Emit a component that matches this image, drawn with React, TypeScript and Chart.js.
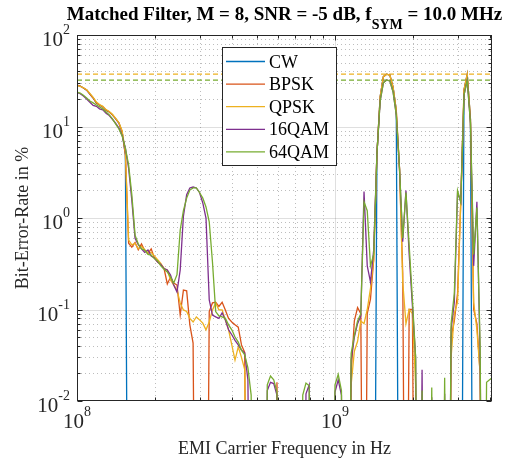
import React, { useEffect, useRef } from 'react';
import { Chart, registerables } from 'chart.js';

Chart.register(...registerables);

// ---------------- data ----------------
const freqMHz = [
  100, 102.9, 105.9, 109.0, 112.2, 115.5, 118.9, 122.3, 125.9, 129.6,
  133.4, 137.2, 141.3, 145.4, 149.6, 154.0, 158.5, 163.1, 167.9, 172.8,
  177.8, 183.0, 188.4, 193.9, 199.5, 205.4, 211.3, 217.5, 223.9, 230.4,
  237.1, 244.1, 251.2, 258.5, 266.1, 273.8, 281.8, 290.1, 298.5, 307.3,
  316.2, 325.5, 335.0, 344.8, 354.8, 365.2, 375.8, 386.8, 398.1, 409.7,
  421.7, 434.0, 446.7, 459.7, 473.2, 487.0, 501.2, 515.8, 530.9, 546.4,
  562.3, 578.8, 595.7, 613.1, 631.0, 649.4, 668.3, 687.9, 707.9, 728.6,
  749.9, 771.8, 794.3, 817.5, 841.4, 866.0, 891.3, 917.3, 944.1, 971.6,
  1000, 1029.2, 1059.3, 1090.2, 1122.0, 1154.8, 1188.5, 1223.2, 1258.9, 1295.7,
  1333.5, 1372.5, 1412.5, 1453.8, 1496.2, 1539.9, 1584.9, 1631.2, 1678.8, 1727.8,
  1778.3, 1830.2, 1883.6, 1938.7, 1995.3, 2053.5, 2113.5, 2175.2, 2238.7, 2304.1,
  2371.4, 2440.6, 2511.9, 2585.2, 2660.7, 2738.4, 2818.4, 2900.7, 2985.4, 3072.6,
  3162.3, 3254.6, 3349.7, 3447.5, 3548.1, 3651.7, 3758.4, 3868.1, 4060,
];

const berCW = [
  28.4, 27.7, 26.3, 25.0, 22.6, 20.5, 18.1, 17.2, 16.4, 15.1,
  14.4, 13.4, 12.1, 10.9, 8.7, 4.9, 0, 0, 0, 0,
  0, 0, 0, 0, 0, 0, 0, 0, 0, 0,
  0, 0, 0, 0, 0, 0, 0, 0, 0, 0,
  0, 0, 0, 0, 0, 0, 0, 0, 0, 0,
  0, 0, 0, 0, 0, 0, 0, 0, 0, 0,
  0, 0, 0, 0, 0, 0, 0, 0, 0, 0,
  0, 0, 0, 0, 0, 0, 0, 0, 0, 0,
  0, 0, 0, 0, 0, 0, 0, 0, 0, 0,
  0, 0, 0, 5.0, 21, 35, 37.3, 36.5, 27, 15,
  0, 0, 0, 0, 0, 0, 0, 0, 0, 0,
  0, 0, 0, 0, 0, 0, 0, 0, 0, 0,
  25, 37.3, 12, 0, 0, 0, 0, 0, 0,
];

const berBPSK = [
  28.4, 27.7, 26.3, 25.0, 22.6, 20.5, 18.1, 17.2, 16.4, 15.1,
  14.4, 13.4, 12.1, 10.9, 8.7, 4.9, 0.53, 0.48, 0.54, 0.45,
  0.52, 0.44, 0.41, 0.46, 0.365, 0.33, 0.31, 0.28, 0.19, 0.226,
  0.195, 0.185, 0.087, 0.163, 0.16, 0.068, 0.043, 0, 0, 0,
  0, 0.095, 0.118, 0.12, 0.108, 0.12, 0.099, 0.08, 0.073, 0.068,
  0.064, 0.041, 0.034, 0, 0, 0, 0, 0, 0, 0,
  0, 0, 0.016, 0, 0, 0, 0, 0, 0, 0,
  0, 0, 0, 0, 0, 0, 0, 0, 0, 0,
  0, 0, 0, 0, 0, 0.02, 0.075, 0.105, 0.09, 0,
  0.09, 0.13, 0.35, 5.0, 21, 35, 37.3, 36.5, 27, 15,
  3.5, 0.25, 0, 0.1, 0.1, 0, 0, 0, 0, 0,
  0, 0, 0, 0, 0, 0, 0.05, 0.075, 0.15, 1.5,
  25, 37.3, 12, 0.1, 0.07, 0.02, 0, 0, 0,
];

const berQPSK = [
  28.0, 27.5, 26.5, 25.2, 23.0, 20.8, 18.5, 17.4, 16.6, 15.3,
  14.6, 13.6, 12.3, 11.0, 9.0, 5.3, 0.575, 0.51, 0.53, 0.46,
  0.49, 0.45, 0.42, 0.42, 0.385, 0.35, 0.32, 0.28, 0.27, 0.21,
  0.185, 0.163, 0.118, 0.099, 0.095, 0.08, 0.073, 0.083, 0.077, 0.071,
  0.06, 0.073, 0.099, 0.118, 0.099, 0.099, 0.077, 0.06, 0.041, 0.028,
  0.039, 0.03, 0.022, 0, 0, 0, 0, 0, 0, 0,
  0, 0, 0, 0, 0, 0, 0, 0, 0, 0,
  0, 0, 0, 0, 0, 0, 0, 0, 0, 0,
  0, 0, 0, 0, 0, 0.015, 0.035, 0.045, 0.075, 0.07,
  0.1, 0.17, 0.35, 5.0, 21, 35, 37.3, 36.5, 27, 15,
  3.5, 0.2, 0.07, 0.1, 0.09, 0.015, 0, 0, 0, 0,
  0, 0, 0, 0, 0, 0, 0.03, 0.09, 0.12, 1.5,
  25, 37.3, 12, 0.12, 0.06, 0.02, 0, 0, 0,
];

const ber16QAM = [
  23.5, 22.8, 21.5, 20.0, 18.4, 17.0, 16.6, 15.6, 15.2, 14.0,
  13.2, 12.0, 10.8, 9.6, 8.0, 5.8, 3.5, 1.57, 0.6, 0.51,
  0.46, 0.42, 0.447, 0.385, 0.365, 0.33, 0.31, 0.28, 0.27, 0.238,
  0.185, 0.155, 0.27, 1.05, 1.8, 2.13, 2.18, 2.13, 1.9, 1.46,
  1.0, 0.127, 0.087, 0.083, 0.08, 0.092, 0.077, 0.06, 0.053, 0.046,
  0.041, 0.036, 0.0335, 0.017, 0, 0, 0, 0, 0, 0.013,
  0.016, 0.0155, 0.0116, 0, 0, 0, 0, 0, 0, 0,
  0, 0.012, 0.015, 0, 0, 0, 0, 0, 0, 0,
  0.0125, 0.017, 0.0116, 0, 0, 0.028, 0.05, 0.07, 0.085, 1.95,
  0.3, 0.2, 0.45, 5.0, 19, 30, 32.3, 31.5, 24, 13.5,
  3.5, 0.55, 2.0, 0.4, 0.11, 0.03, 0, 0.022, 0, 0,
  0.011, 0, 0, 0, 0.012, 0, 0.06, 0.12, 1.9, 1.5,
  22, 32, 11, 0.3, 1.5, 0.03, 0, 0, 0,
];

const ber64QAM = [
  23.8, 23.2, 22.0, 20.5, 19.0, 18.1, 17.2, 16.4, 15.5, 14.4,
  13.4, 12.1, 10.6, 9.4, 7.9, 5.8, 3.8, 1.8, 0.65, 0.52,
  0.46, 0.447, 0.40, 0.394, 0.36, 0.34, 0.30, 0.275, 0.257, 0.226,
  0.195, 0.24, 0.74, 1.2, 1.65, 2.02, 2.13, 2.13, 1.9, 1.65,
  1.32, 0.91, 0.33, 0.095, 0.085, 0.083, 0.08, 0.068, 0.06, 0.05,
  0.044, 0.036, 0.032, 0.023, 0.0116, 0, 0, 0, 0, 0.015,
  0.0187, 0.017, 0.0125, 0, 0, 0, 0, 0, 0, 0,
  0.0116, 0.0157, 0.0147, 0, 0, 0, 0, 0, 0, 0,
  0.015, 0.0195, 0.013, 0, 0, 0.033, 0.052, 0.075, 0.09, 1.5,
  1.2, 0.3, 0.4, 5.0, 19, 30, 32.3, 31.5, 24, 13.5,
  3.5, 0.6, 1.9, 0.5, 0.13, 0.03, 0, 0.013, 0, 0,
  0.014, 0, 0, 0, 0.018, 0, 0.07, 0.15, 2.0, 1.5,
  22, 32, 11, 0.4, 1.3, 0.04, 0, 0.016, 0.018,
];

// theoretical limits (dashed)
const limitPSK = 37.3;
const limitQAM = 32.2;

const seriesNames = ['CW', 'BPSK', 'QPSK', '16QAM', '64QAM'];
const seriesColors = ['#0072BD', '#D95319', '#EDB120', '#7E2F8E', '#77AC30'];
const seriesValues = [berCW, berBPSK, berQPSK, ber16QAM, ber64QAM];

const xDecades = [1e8, 1e9];
const xDecadeExp = ['8', '9'];
const yDecades = [1e-2, 1e-1, 1e0, 1e1, 1e2];
const yDecadeExp = ['-2', '-1', '0', '1', '2'];
const xMin = 1e8;
const xMax = 4.06e9;
const yMin = 1e-2;
const yMax = 1e2;

const titleMain = 'Matched Filter, M = 8, SNR = -5 dB, f';
const titleSub = 'SYM';
const titleEnd = ' = 10.0 MHz';
const xLabel = 'EMI Carrier Frequency in Hz';
const yLabel = 'Bit-Error-Rate in %';

// --------------- drawing helpers ---------------
const ZERO_FLOOR = 1e-6; // BER of 0 drawn as a drop out of the log axis
const SERIF = '"Liberation Serif", "Times New Roman", serif';
const AXC = '#262626';

const minorOf = (decades: number[], lo: number, hi: number) => {
  const out: number[] = [];
  for (const d of decades) for (let m = 2; m <= 9; m++) {
    const v = m * d;
    if (v > lo && v < hi) out.push(v);
  }
  return out;
};

const decorPlugin = {
  id: 'matlabDecor',
  beforeDatasetsDraw(chart: any) {
    const { ctx, chartArea: a, scales } = chart;
    const x = scales.x, y = scales.y;
    const xMinor = minorOf(xDecades, xMin, xMax);
    const yMinor = minorOf(yDecades, yMin, yMax);
    ctx.save();
    ctx.lineWidth = 1;
    ctx.strokeStyle = 'rgba(38,38,38,0.3)';
    ctx.setLineDash([1, 3]);
    ctx.beginPath();
    for (const v of xMinor) {
      const p = Math.round(x.getPixelForValue(v)) + 0.5;
      ctx.moveTo(p, a.top); ctx.lineTo(p, a.bottom);
    }
    for (const v of yMinor) {
      const p = Math.round(y.getPixelForValue(v)) + 0.5;
      ctx.moveTo(a.left, p); ctx.lineTo(a.right, p);
    }
    ctx.stroke();
    ctx.setLineDash([]);
    ctx.strokeStyle = 'rgba(38,38,38,0.15)';
    ctx.beginPath();
    for (const v of xDecades) {
      if (v <= xMin || v >= xMax) continue;
      const p = Math.round(x.getPixelForValue(v)) + 0.5;
      ctx.moveTo(p, a.top); ctx.lineTo(p, a.bottom);
    }
    for (const v of yDecades) {
      if (v <= yMin || v >= yMax) continue;
      const p = Math.round(y.getPixelForValue(v)) + 0.5;
      ctx.moveTo(a.left, p); ctx.lineTo(a.right, p);
    }
    ctx.stroke();
    ctx.restore();
  },
  afterDatasetsDraw(chart: any) {
    const { ctx, chartArea: a, scales } = chart;
    const x = scales.x, y = scales.y;
    const xMinor = minorOf(xDecades, xMin, xMax);
    const yMinor = minorOf(yDecades, yMin, yMax);
    const L = Math.round(a.left) + 0.5, R = Math.round(a.right) - 0.5;
    const T = Math.round(a.top) + 0.5, B = Math.round(a.bottom) - 0.5;
    ctx.save();
    // box
    ctx.strokeStyle = AXC;
    ctx.lineWidth = 1;
    ctx.strokeRect(L, T, R - L, B - T);
    // ticks
    ctx.beginPath();
    const xt = (v: number, len: number) => {
      const p = Math.round(x.getPixelForValue(v)) + 0.5;
      ctx.moveTo(p, B); ctx.lineTo(p, B - len);
      ctx.moveTo(p, T); ctx.lineTo(p, T + len);
    };
    const yt = (v: number, len: number) => {
      const p = Math.round(y.getPixelForValue(v)) + 0.5;
      ctx.moveTo(L, p); ctx.lineTo(L + len, p);
      ctx.moveTo(R, p); ctx.lineTo(R - len, p);
    };
    xDecades.forEach((v) => xt(v, 5));
    xMinor.forEach((v) => xt(v, 3));
    yDecades.forEach((v) => yt(v, 5));
    yMinor.forEach((v) => yt(v, 3));
    ctx.stroke();

    // tick labels 10^n
    ctx.fillStyle = AXC;
    ctx.textBaseline = 'alphabetic';
    ctx.textAlign = 'left';
    const baseFont = `21px ${SERIF}`;
    const expFont = `14px ${SERIF}`;
    xDecades.forEach((v, i) => {
      const px = x.getPixelForValue(v);
      ctx.font = baseFont; const w1 = ctx.measureText('10').width;
      ctx.font = expFont; const w2 = ctx.measureText(xDecadeExp[i]).width;
      const sx = px - (w1 + w2) / 2;
      ctx.font = baseFont; ctx.fillText('10', sx, 428);
      ctx.font = expFont; ctx.fillText(xDecadeExp[i], sx + w1, 416);
    });
    yDecades.forEach((v, i) => {
      const py = y.getPixelForValue(v);
      ctx.font = baseFont; const w1 = ctx.measureText('10').width;
      ctx.font = expFont; const w2 = ctx.measureText(yDecadeExp[i]).width;
      const sx = 70 - (w1 + w2);
      ctx.font = baseFont; ctx.fillText('10', sx, py + 11);
      ctx.font = expFont; ctx.fillText(yDecadeExp[i], sx + w1, py - 1);
    });

    // axis labels
    ctx.font = `18px ${SERIF}`;
    ctx.textAlign = 'center';
    ctx.fillText(xLabel, (a.left + a.right) / 2, 454);
    ctx.save();
    ctx.translate(28, (a.top + a.bottom) / 2);
    ctx.rotate(-Math.PI / 2);
    ctx.fillText(yLabel, 0, 0);
    ctx.restore();

    // title with subscript
    ctx.fillStyle = '#000';
    ctx.textAlign = 'left';
    const tFont = `bold 19px ${SERIF}`;
    const sFont = `bold 14px ${SERIF}`;
    ctx.font = tFont; const w1 = ctx.measureText(titleMain).width; const w3 = ctx.measureText(titleEnd).width;
    ctx.font = sFont; const w2 = ctx.measureText(titleSub).width;
    let tx = (a.left + a.right) / 2 - (w1 + w2 + w3) / 2;
    ctx.font = tFont; ctx.fillText(titleMain, tx, 20); tx += w1;
    ctx.font = sFont; ctx.fillText(titleSub, tx, 29); tx += w2;
    ctx.font = tFont; ctx.fillText(titleEnd, tx, 20);

    // legend
    const bx = 222.5, by = 47.5, bw = 114, bh = 118;
    ctx.fillStyle = '#fff';
    ctx.fillRect(bx, by, bw, bh);
    ctx.strokeStyle = AXC;
    ctx.lineWidth = 1;
    ctx.strokeRect(bx, by, bw, bh);
    ctx.font = `18px ${SERIF}`;
    seriesNames.forEach((name, i) => {
      const ry = 61.5 + i * 22.6;
      ctx.strokeStyle = seriesColors[i];
      ctx.lineWidth = 1.3;
      ctx.beginPath();
      ctx.moveTo(226, ry); ctx.lineTo(265, ry);
      ctx.stroke();
      ctx.fillStyle = '#000';
      ctx.fillText(name, 269, ry + 6);
    });
    ctx.restore();
  },
};

export default function App() {
  const ref = useRef<HTMLCanvasElement>(null);
  useEffect(() => {
    document.body.style.margin = '0';
    const canvas = ref.current;
    if (!canvas) return;
    const toPts = (vals: number[]) =>
      freqMHz.map((f, i) => ({ x: f * 1e6, y: vals[i] === 0 ? ZERO_FLOOR : vals[i] }));
    const datasets: any[] = seriesValues.map((vals, i) => ({
      label: seriesNames[i],
      data: toPts(vals),
      borderColor: seriesColors[i],
      borderWidth: 1.3,
      pointRadius: 0,
      tension: 0,
      fill: false,
      order: 5 - i,
    }));
    const limitSet = (val: number, color: string, order: number) => ({
      label: 'limit',
      data: [{ x: xMin, y: val }, { x: xMax, y: val }],
      borderColor: color,
      borderWidth: 1.2,
      borderDash: [5, 3],
      pointRadius: 0,
      fill: false,
      order,
    });
    datasets.push(limitSet(limitPSK, seriesColors[2], 9));
    datasets.push(limitSet(limitQAM, seriesColors[4], 7));

    const chart = new Chart(canvas, {
      type: 'line',
      data: { datasets },
      options: {
        animation: false,
        responsive: false,
        devicePixelRatio: 1,
        layout: { padding: { left: 77, top: 35, right: 19, bottom: 61 } },
        plugins: { legend: { display: false }, tooltip: { enabled: false }, title: { display: false } },
        events: [],
        scales: {
          x: { type: 'logarithmic', min: xMin, max: xMax, display: false },
          y: { type: 'logarithmic', min: yMin, max: yMax, display: false },
        },
      },
      plugins: [decorPlugin],
    });
    return () => chart.destroy();
  }, []);
  return (
    <div style={{ width: 511, height: 462 }}>
      <canvas ref={ref} width={511} height={462} style={{ display: 'block' }} />
    </div>
  );
}
